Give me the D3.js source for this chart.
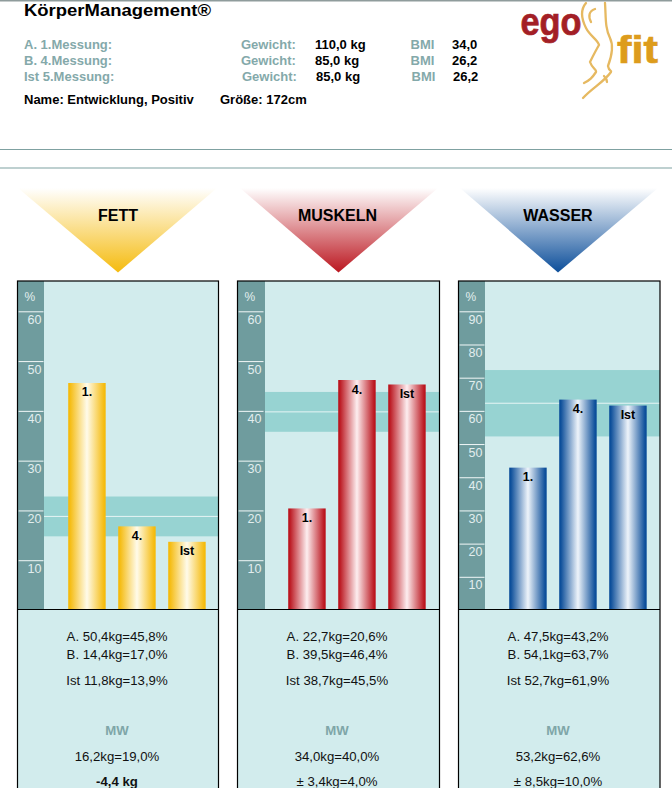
<!DOCTYPE html>
<html>
<head>
<meta charset="utf-8">
<title>KörperManagement</title>
<script src="https://cdn.jsdelivr.net/npm/d3@7"></script>
<style>
  html, body { margin: 0; padding: 0; background: #fff; overflow: hidden; }
  svg { display: block; font-family: "Liberation Sans", Arial, sans-serif; }
</style>
</head>
<body>
<div id="chart"></div>
<script>
// values
const panelNames = ['FETT', 'MUSKELN', 'WASSER'];
const barLabels = ['1.', '4.', 'Ist'];
const fettValues = [45.8, 17.0, 13.9];
const muskelnValues = [20.6, 46.4, 45.5];
const wasserValues = [43.2, 63.7, 61.9];
const meanValues = [19.0, 40.0, 62.6];
const spreadValues = [4.0, 4.0, 10.0];
const axisMax = [60, 60, 90];
const ticks60 = [10, 20, 30, 40, 50, 60];
const ticks90 = [10, 20, 30, 40, 50, 60, 70, 80, 90];

const summaryA = ['A. 50,4kg=45,8%', 'A. 22,7kg=20,6%', 'A. 47,5kg=43,2%'];
const summaryB = ['B. 14,4kg=17,0%', 'B. 39,5kg=46,4%', 'B. 54,1kg=63,7%'];
const summaryIst = ['Ist 11,8kg=13,9%', 'Ist 38,7kg=45,5%', 'Ist 52,7kg=61,9%'];
const summaryMw = ['16,2kg=19,0%', '34,0kg=40,0%', '53,2kg=62,6%'];
const summaryLast = ['-4,4 kg', '± 3,4kg=4,0%', '± 8,5kg=10,0%'];

const rowLabels = ['A. 1.Messung:', 'B. 4.Messung:', 'Ist 5.Messung:'];
const rowWeights = ['110,0 kg', '85,0 kg', '85,0 kg'];
const rowBmi = ['34,0', '26,2', '26,2'];

const width = 672, height = 788;
const panelX = [18, 238, 459];
const panelW = [200.5, 201.5, 201];
const stripW = [26, 27, 26];
const triangleX = [[18, 118, 217], [240, 338.5, 438], [460, 558, 658]];
const barColors = [
  ['#f5bb0e', '#fffbea'],
  ['#bb161f', '#fdeef0'],
  ['#0c4e9a', '#eef4fa']
];
const allValues = [fettValues, muskelnValues, wasserValues];
const allTicks = [ticks60, ticks60, ticks90];

const svg = d3.select('#chart').append('svg')
  .attr('width', width)
  .attr('height', height);
const defs = svg.append('defs');

svg.append('rect').attr('width', width).attr('height', height).attr('fill', '#fff');

// header
svg.append('rect').attr('width', width).attr('height', 1.5).attr('fill', '#8f9c9c');
svg.selectAll('.rule').data([149, 167.5]).enter().append('rect')
  .attr('x', 0).attr('width', width)
  .attr('y', d => d).attr('height', 1)
  .attr('fill', '#7fa1a1');

svg.append('text').attr('x', 24).attr('y', 15.5)
  .attr('font-size', 17).attr('font-weight', 'bold')
  .attr('textLength', 187).attr('lengthAdjust', 'spacingAndGlyphs')
  .text('KörperManagement®');

const header = (x, y, str, color) => svg.append('text')
  .attr('x', x).attr('y', y)
  .attr('font-size', 13).attr('font-weight', 'bold')
  .attr('fill', color).text(str);

rowLabels.forEach((label, i) => {
  const y = 48.5 + i * 16;
  const nudge = i === 2 ? 1 : 0;
  header(24, y, label, '#84a9aa');
  header(241 + nudge, y, 'Gewicht:', '#84a9aa');
  header(315 + nudge, y, rowWeights[i], '#000');
  header(410.5 + nudge, y, 'BMI', '#84a9aa');
  header(452 + nudge, y, rowBmi[i], '#000');
});
header(24, 104, 'Name: Entwicklung, Positiv', '#000');
header(220, 104, 'Größe: 172cm', '#000');

// logo
svg.append('text').attr('x', 520.5).attr('y', 35)
  .attr('font-size', 38).attr('font-weight', 'bold').attr('fill', '#a31f26')
  .attr('stroke', '#a31f26').attr('stroke-width', 0.7)
  .attr('textLength', 61).attr('lengthAdjust', 'spacingAndGlyphs').text('ego');
svg.append('text').attr('x', 617).attr('y', 63)
  .attr('font-size', 39).attr('font-weight', 'bold').attr('fill', '#dd9c1c')
  .attr('stroke', '#dd9c1c').attr('stroke-width', 0.7)
  .attr('textLength', 41).attr('lengthAdjust', 'spacingAndGlyphs').text('fit');
const bodyStrokes = [
  'M605,3 C606,18 605,28 610,38 C614,46 611,58 608,66 C609,72 612,70 611,72 C604,82 592,88 583,98',
  'M586,3 C580,10 581,18 586,28 C590,36 598,40 599,45 C596,50 594,54 590,62 C592,68 597,70 596,72 C592,78 590,80 584,83',
  'M595,9 C589,11 588,16 591,22',
  'M604,76 C606,78 607,80 607,82'
];
svg.append('g').selectAll('path').data(bodyStrokes).enter().append('path')
  .attr('d', d => d)
  .attr('fill', 'none')
  .attr('stroke', '#e6b961')
  .attr('stroke-width', 2.3)
  .attr('stroke-linecap', 'round');

// panels
panelNames.forEach((name, p) => {
  const x0 = panelX[p];
  const w = panelW[p];
  const strip = stripW[p];
  const cx = x0 + 99;
  const colors = barColors[p];

  const triId = 'tri' + p;
  const tri = defs.append('linearGradient').attr('id', triId)
    .attr('x1', 0).attr('x2', 0).attr('y1', 0).attr('y2', 1);
  tri.append('stop').attr('offset', 0).attr('stop-color', colors[0]).attr('stop-opacity', 0);
  tri.append('stop').attr('offset', 1).attr('stop-color', colors[0]);

  const barId = 'bar' + p;
  const bar = defs.append('linearGradient').attr('id', barId);
  bar.append('stop').attr('offset', 0.04).attr('stop-color', colors[0]);
  bar.append('stop').attr('offset', 0.5).attr('stop-color', colors[1]);
  bar.append('stop').attr('offset', 0.96).attr('stop-color', colors[0]);

  const t = triangleX[p];
  svg.append('path')
    .attr('d', `M${t[0]},188 L${t[2]},188 L${t[1]},272.5 Z`)
    .attr('fill', `url(#${triId})`);
  svg.append('text')
    .attr('x', t[1] - (p === 1 ? 1 : 0)).attr('y', 220.5)
    .attr('text-anchor', 'middle')
    .attr('font-size', 16).attr('font-weight', 'bold')
    .text(name);

  const y = d3.scaleLinear().domain([0, axisMax[p]]).range([611, 312.3]);
  const x = d3.scaleBand().domain(barLabels)
    .range([x0 + 50.2, x0 + 187.7]).paddingInner(0.25);

  svg.append('rect').attr('x', x0).attr('y', 281).attr('width', w).attr('height', 520)
    .attr('fill', '#d2eced');
  svg.append('rect').attr('x', x0).attr('y', 281).attr('width', strip).attr('height', 328)
    .attr('fill', '#6f9c9e');

  // normal range band
  const mean = meanValues[p], spread = spreadValues[p];
  svg.append('rect')
    .attr('x', x0 + strip).attr('width', w - strip)
    .attr('y', y(mean + spread))
    .attr('height', y(mean - spread) - y(mean + spread))
    .attr('fill', '#97d3d2');
  svg.append('line')
    .attr('x1', x0 + strip).attr('x2', x0 + w)
    .attr('y1', y(mean)).attr('y2', y(mean))
    .attr('stroke', '#e6f5f5');

  const axis = d3.axisLeft(y).tickValues(allTicks[p]).tickSize(25).tickSizeOuter(0);
  const g = svg.append('g')
    .attr('transform', `translate(${x0 + 25.5},-1)`)
    .call(axis);
  g.select('.domain').remove();
  g.selectAll('line').attr('stroke', '#f2f8f8');
  g.selectAll('text')
    .attr('x', -2).attr('y', 12).attr('dy', 0)
    .attr('text-anchor', 'end')
    .attr('font-family', '"Liberation Sans", Arial, sans-serif')
    .attr('font-size', 12.5)
    .attr('fill', '#e2eeee');
  svg.append('text').attr('x', x0 + 6.5).attr('y', 301)
    .attr('font-size', 12).attr('fill', '#e2eeee').text('%');

  // bars
  svg.append('g').selectAll('rect')
    .data(allValues[p]).enter().append('rect')
    .attr('x', (d, i) => x(barLabels[i]))
    .attr('width', x.bandwidth())
    .attr('y', d => y(d))
    .attr('height', d => 609 - y(d))
    .attr('fill', `url(#${barId})`);
  svg.append('g').selectAll('text')
    .data(allValues[p]).enter().append('text')
    .attr('x', (d, i) => x(barLabels[i]) + x.bandwidth() / 2)
    .attr('y', d => y(d) + 13.5)
    .attr('text-anchor', 'middle')
    .attr('font-size', 12.5).attr('font-weight', 'bold')
    .text((d, i) => barLabels[i]);

  // frame
  svg.append('rect').attr('x', x0 - 0.5).attr('y', 281).attr('width', w + 0.5).attr('height', 520)
    .attr('fill', 'none').attr('stroke', '#000').attr('stroke-width', 1.2);
  svg.append('line').attr('x1', x0).attr('x2', x0 + w).attr('y1', 609.5).attr('y2', 609.5)
    .attr('stroke', '#000').attr('stroke-width', 1.2);

  // summary text
  const summary = (yy, str, color, bold) => svg.append('text')
    .attr('x', cx).attr('y', yy)
    .attr('text-anchor', 'middle')
    .attr('font-size', 13.2)
    .attr('font-weight', bold ? 'bold' : 'normal')
    .attr('fill', color)
    .text(str);
  summary(641, summaryA[p], '#111');
  summary(659, summaryB[p], '#111');
  summary(685, summaryIst[p], '#111');
  summary(735, 'MW', '#7fa6a8', true);
  summary(761, summaryMw[p], '#111');
  summary(786, summaryLast[p], '#111', p === 0);
});
</script>
</body>
</html>
